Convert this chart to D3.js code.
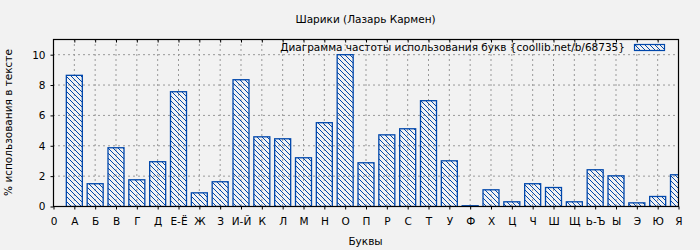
<!DOCTYPE html>
<html>
<head>
<meta charset="utf-8">
<script src="https://cdn.jsdelivr.net/npm/d3@7"></script>
<style>
  body { margin: 0; background: #f2f2f2; }
  text { font-family: "DejaVu Sans", sans-serif; }
</style>
</head>
<body>
<div id="chart"></div>
<script>
const letters = ["А", "Б", "В", "Г", "Д", "Е-Ё", "Ж", "З", "И-Й", "К", "Л", "М", "Н", "О", "П",
  "Р", "С", "Т", "У", "Ф", "Х", "Ц", "Ч", "Ш", "Щ", "Ь-Ъ", "Ы", "Э", "Ю", "Я"];
const freq = [8.64, 1.50, 3.87, 1.76, 2.95, 7.56, 0.90, 1.63, 8.35, 4.59, 4.46, 3.21, 5.52, 10.0, 2.88,
  4.72, 5.12, 6.97, 3.01, 0.05, 1.10, 0.31, 1.50, 1.25, 0.31, 2.42, 2.02, 0.24, 0.66, 2.09];
const yTicks = [0, 2, 4, 6, 8, 10];
const tickLabels = ["0", ...letters];

const W = 700, H = 250;
const m = { left: 53, right: 22, top: 39, bottom: 44 };
const blue = "#0047ab";
const fs = 10.5;

const svg = d3.select("#chart").append("svg").attr("width", W).attr("height", H);
svg.append("rect").attr("width", W).attr("height", H).attr("fill", "#f2f2f2");

const defs = svg.append("defs");
const pat = defs.append("pattern").attr("id", "hatch")
  .attr("patternUnits", "userSpaceOnUse").attr("width", 5).attr("height", 5);
pat.append("path").attr("d", "M0,0L5,5M-1,4L1,6M4,-1L6,1")
  .attr("stroke", blue).attr("stroke-width", 1).attr("fill", "none");

const x = d3.scaleLinear().domain([0, letters.length]).range([m.left, W - m.right]);
const y = d3.scaleLinear().domain([0, 11]).range([H - m.bottom, m.top]);

defs.append("clipPath").attr("id", "plot")
  .append("rect").attr("x", m.left).attr("y", m.top)
  .attr("width", W - m.right - m.left).attr("height", H - m.bottom - m.top);

// grid
const grid = svg.append("g").attr("stroke", "#999").attr("stroke-dasharray", "2,3");
grid.selectAll(".gx").data(d3.range(1, letters.length)).join("line")
  .attr("x1", d => x(d) + 0.5).attr("x2", d => x(d) + 0.5)
  .attr("y1", m.top).attr("y2", H - m.bottom);
grid.selectAll(".gy").data(yTicks.slice(1)).join("line")
  .attr("x1", m.left).attr("x2", W - m.right)
  .attr("y1", d => y(d) + 0.5).attr("y2", d => y(d) + 0.5);

// bars
const bw = 16;
svg.append("g").attr("clip-path", "url(#plot)")
  .selectAll("rect").data(freq).join("rect")
  .attr("x", (d, i) => x(i + 1) - bw / 2 + 0.5)
  .attr("y", d => y(d) + 0.5)
  .attr("width", bw)
  .attr("height", d => y(0) - y(d))
  .attr("fill", "url(#hatch)")
  .attr("stroke", blue).attr("stroke-width", 1.3);

// frame
svg.append("rect").attr("x", m.left + 0.5).attr("y", m.top + 0.5)
  .attr("width", W - m.right - m.left).attr("height", H - m.bottom - m.top)
  .attr("fill", "none").attr("stroke", "#000").attr("stroke-width", 1.2);

// axes
const xAxis = d3.axisBottom(x).tickValues(d3.range(0, letters.length + 1))
  .tickFormat(d => tickLabels[d]).tickSize(3).tickPadding(8);
const gx = svg.append("g").attr("transform", `translate(0.5,${H - m.bottom + 0.5})`).call(xAxis);
gx.select(".domain").remove();
gx.selectAll("text").attr("font-size", fs).attr("fill", "#000").attr("font-family", "DejaVu Sans");

const topAxis = d3.axisBottom(x).tickValues(d3.range(1, letters.length)).tickSize(3).tickFormat("");
const gt = svg.append("g").attr("transform", `translate(0.5,${m.top + 0.5})`).call(topAxis);
gt.select(".domain").remove();

const yAxis = d3.axisLeft(y).tickValues(yTicks).tickSize(3).tickPadding(5);
const gy = svg.append("g").attr("transform", `translate(${m.left + 0.5},0.5)`).call(yAxis);
gy.select(".domain").remove();
gy.selectAll("text").attr("font-size", fs).attr("fill", "#000").attr("font-family", "DejaVu Sans");

// titles
svg.append("text").attr("x", (m.left + W - m.right) / 2).attr("y", 23)
  .attr("text-anchor", "middle").attr("font-size", fs).text("Шарики (Лазарь Кармен)");
svg.append("text").attr("x", (m.left + W - m.right) / 2).attr("y", 245)
  .attr("text-anchor", "middle").attr("font-size", fs).text("Буквы");
svg.append("text").attr("transform", `translate(12,${(m.top + H - m.bottom) / 2}) rotate(-90)`)
  .attr("text-anchor", "middle").attr("font-size", fs).text("% использования в тексте");

// legend
svg.append("text").attr("x", 625).attr("y", 51).attr("text-anchor", "end")
  .attr("font-size", fs).text("Диаграмма частоты использования букв {coollib.net/b/68735}");
svg.append("rect").attr("x", 634.5).attr("y", 44.5).attr("width", 30).attr("height", 6)
  .attr("fill", "url(#hatch)").attr("stroke", blue).attr("stroke-width", 1.2);
</script>
</body>
</html>
